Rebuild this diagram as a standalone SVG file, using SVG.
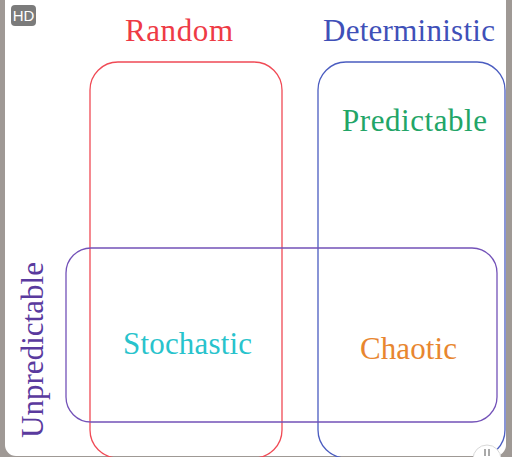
<svg xmlns="http://www.w3.org/2000/svg" width="512" height="457" viewBox="0 0 512 457">
<style>
.lbl{font-family:"Liberation Serif","Times New Roman",serif;font-size:31px;text-anchor:middle}
.box{fill:none;stroke-width:1.3}
</style>
<rect x="0" y="0" width="512" height="457" fill="#9f9995"/>
<rect x="5" y="-12" width="501" height="468" rx="11" fill="#ffffff"/>
<g id="hd-badge">
<rect x="11" y="5" width="25" height="21" rx="4" fill="#7b7b7b"/>
<text x="23.5" y="21" font-family="Liberation Sans,Arial,sans-serif" font-size="15" fill="#ffffff" text-anchor="middle">HD</text>
</g>
<g id="connectors"></g>
<g id="random">
<rect class="box" x="90" y="62" width="192" height="396" rx="28" stroke="#f04a55"/>
<text class="lbl" x="179" y="41" fill="#ee3a45" textLength="108">Random</text>
</g>
<g id="deterministic">
<rect class="box" x="318" y="62" width="187" height="396" rx="28" stroke="#4a5cc0"/>
<text class="lbl" x="409" y="41" fill="#3f50b8" textLength="172">Deterministic</text>
</g>
<g id="unpredictable">
<rect class="box" x="66" y="248" width="431" height="174" rx="25" stroke="#7352b8"/>
<text class="lbl" transform="translate(43 350) rotate(-90)" x="0" y="0" fill="#5a3a9e" textLength="176">Unpredictable</text>
</g>
<g id="predictable">
<text class="lbl" x="414.5" y="131" fill="#22a567" textLength="145">Predictable</text>
</g>
<g id="stochastic">
<text class="lbl" x="187.5" y="354" fill="#28c3cc" textLength="129">Stochastic</text>
</g>
<g id="chaotic">
<text class="lbl" x="408.5" y="359" fill="#e8862f" textLength="97">Chaotic</text>
</g>
<g id="corner-button">
<circle cx="487" cy="459" r="14" fill="#ffffff" stroke="#d8d8d8" stroke-width="1"/>
<path d="M485 449 v7 M489 449 v7" stroke="#555" stroke-width="1" fill="none"/>
</g>
</svg>
